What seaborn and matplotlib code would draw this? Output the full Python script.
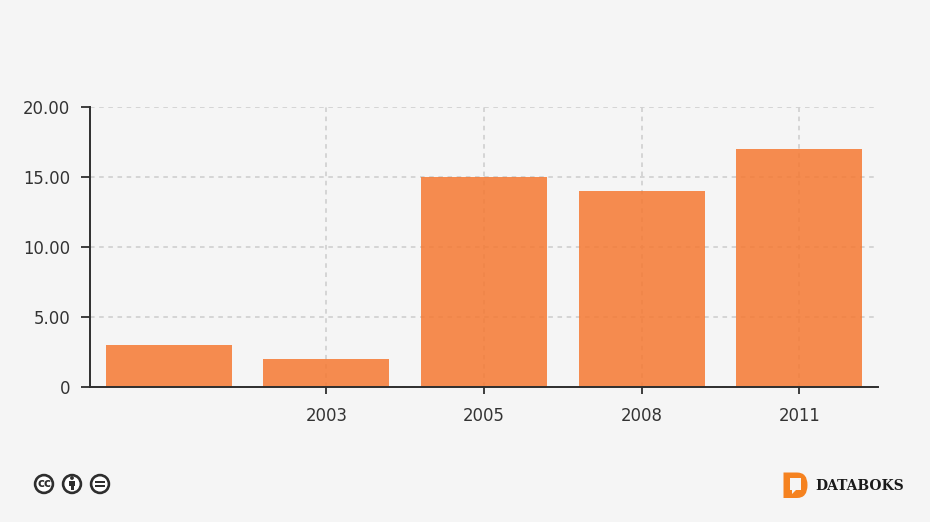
import matplotlib
matplotlib.use("Agg")
import matplotlib.pyplot as plt
import seaborn as sns
import pandas as pd
from matplotlib.patches import Circle, PathPatch, Rectangle, Polygon
from matplotlib.path import Path

YEARS = ["", "2003", "2005", "2008", "2011"]
VALUES = [3, 2, 15, 14, 17]
Y_TICKS = [0, 5, 10, 15, 20]
Y_LABELS = ["0", "5.00", "10.00", "15.00", "20.00"]

BG = "#f5f5f5"
ORANGE = "#f57932"
DARK = "#2e2e2e"
W, H = 930, 522

sns.set_style("white")
plt.rcParams["font.family"] = ["DejaVu Sans"]

fig = plt.figure(figsize=(W / 100, H / 100), dpi=100, facecolor=BG)
ax = fig.add_axes([90 / W, 1 - 387 / H, 788 / W, 280 / H], facecolor=BG)

df = pd.DataFrame({"year": [str(i) for i in range(len(YEARS))], "value": VALUES})
sns.barplot(
    data=df,
    x="year",
    y="value",
    color=ORANGE,
    saturation=1,
    alpha=0.85,
    width=0.8,
    edgecolor="none",
    ax=ax,
)

ax.set_xlim(-0.5, len(YEARS) - 0.5)
ax.set_ylim(0, 20)
ax.set_xlabel("")
ax.set_ylabel("")
ticks = [i for i, y in enumerate(YEARS) if y]
ax.set_xticks(ticks, [YEARS[i] for i in ticks])
ax.set_yticks(Y_TICKS, Y_LABELS)
ax.grid(True, color="#cccccc", linestyle=(0, (3, 3)), linewidth=1.1)
ax.set_axisbelow(True)
ax.tick_params(axis="both", labelsize=11.9, labelcolor="#333333")
ax.tick_params(axis="y", length=6.5, width=1.3, color=DARK, pad=7.6, left=True)
ax.tick_params(axis="x", length=5, width=1.3, color=DARK, pad=9.3, bottom=True)
sns.despine(ax=ax)
for side in ["left", "bottom"]:
    ax.spines[side].set_linewidth(1.4)
    ax.spines[side].set_color(DARK)
    ax.spines[side].set_zorder(5)

# footer, in pixel coordinates
ov = fig.add_axes([0, 0, 1, 1], facecolor="none")
ov.set_xlim(0, W)
ov.set_ylim(H, 0)
ov.axis("off")

for cx in [44, 72, 100]:
    ov.add_patch(Circle((cx, 484), 8.9, fc="white", ec=DARK, lw=1.9))
ov.text(44, 483.5, "cc", ha="center", va="center", fontsize=8.5, fontweight="bold", color=DARK)
ov.add_patch(Circle((72, 478), 1.9, fc=DARK, ec="none"))
ov.add_patch(Rectangle((69.3, 480.5), 5.4, 5, fc=DARK, ec="none"))
ov.add_patch(Rectangle((70.5, 485), 3, 5, fc=DARK, ec="none"))
ov.add_patch(Rectangle((95, 480.5), 10, 2.4, fc=DARK, ec="none"))
ov.add_patch(Rectangle((95, 485), 10, 2.4, fc=DARK, ec="none"))

d_shape = Path(
    [(783.5, 472.5), (797, 472.5), (807.5, 472.5), (807.5, 485), (807.5, 498), (797, 498), (783.5, 498), (783.5, 472.5)],
    [Path.MOVETO, Path.LINETO, Path.CURVE3, Path.CURVE3, Path.CURVE3, Path.CURVE3, Path.LINETO, Path.CLOSEPOLY],
)
ov.add_patch(PathPatch(d_shape, fc="#f58220", ec="none"))
ov.add_patch(Rectangle((790, 478), 11, 12, fc=BG, ec="none"))
ov.add_patch(Polygon([(792, 489), (797, 489), (792, 494)], fc=BG, ec="none"))
ov.text(815, 485.5, "DATABOKS", ha="left", va="center", fontsize=10, fontweight="bold",
        family="DejaVu Serif", color="#1a1a1a")

fig.savefig("out.png", dpi=100, facecolor=BG)
